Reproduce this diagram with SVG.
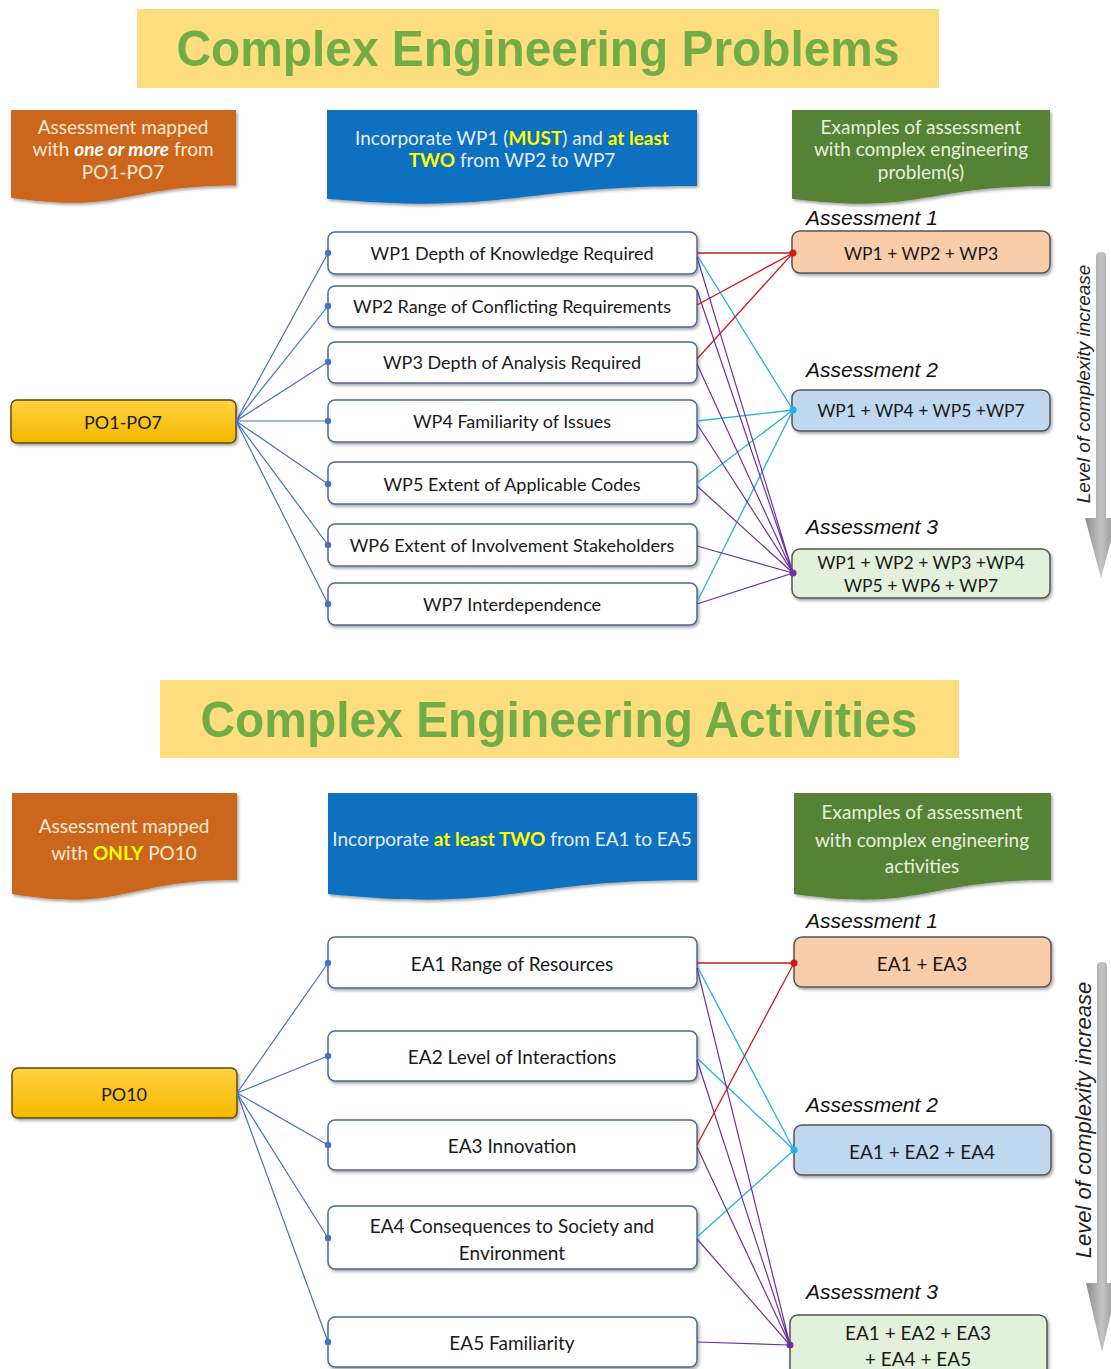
<svg xmlns="http://www.w3.org/2000/svg" width="1111" height="1369" viewBox="0 0 1111 1369">
<defs>
<filter id="sh" x="-10%" y="-20%" width="125%" height="150%">
<feDropShadow dx="1.5" dy="2" stdDeviation="1.5" flood-color="#000" flood-opacity="0.35"/>
</filter>
<linearGradient id="arrowGrad" x1="0" y1="0" x2="1" y2="0">
<stop offset="0" stop-color="#8c8c8c"/>
<stop offset="0.5" stop-color="#c4c4c4"/>
<stop offset="1" stop-color="#8c8c8c"/>
</linearGradient>
<linearGradient id="poGrad" x1="0" y1="0" x2="0" y2="1">
<stop offset="0" stop-color="#FFD23F"/>
<stop offset="1" stop-color="#F5B800"/>
</linearGradient>
<style>
.title{font-family:"Liberation Sans",Arial,sans-serif;font-weight:bold;font-size:50px;fill:#70AD47;text-anchor:middle}
.tband{fill:#FEDD7E}
.ban{font-family:Lato,"Open Sans",sans-serif;font-size:19px;text-anchor:middle;dominant-baseline:central}
.orange{fill:#CC661E}
.blue{fill:#0B6FC0}
.green{fill:#548235}
.hl{fill:#FFFF00;font-weight:bold}
.wp{fill:#ffffff;stroke:#4E6A92;stroke-width:1.5}
.wpt{font-family:Lato,"Open Sans",sans-serif;font-size:18px;fill:#1a1a1a;text-anchor:middle;dominant-baseline:central}
.eat{font-family:Lato,"Open Sans",sans-serif;font-size:19px;fill:#1a1a1a;text-anchor:middle;dominant-baseline:central}
.po{fill:url(#poGrad);stroke:#5E4A10;stroke-width:1.5}
.pot{font-family:Lato,"Open Sans",sans-serif;font-size:18px;fill:#1a1a1a;text-anchor:middle;dominant-baseline:central}
.asb{stroke:#555;stroke-width:1.5}
.a1{fill:#F9CCAA}
.a2{fill:#BFD8F0}
.a3{fill:#E4F1DA}
.ast{font-family:Lato,"Open Sans",sans-serif;font-size:17.5px;fill:#1a1a1a;text-anchor:middle;dominant-baseline:central}
.ast2{font-family:Lato,"Open Sans",sans-serif;font-size:19px;fill:#1a1a1a;text-anchor:middle;dominant-baseline:central}
.alab{font-family:"Liberation Sans",Arial,sans-serif;font-style:italic;font-size:21px;fill:#111}
.lvl{font-family:"Liberation Sans",Arial,sans-serif;font-style:italic;fill:#222;text-anchor:middle;dominant-baseline:central}
.cb{stroke:#4472C4;stroke-width:1.2;fill:none}
.cr{stroke:#D01818;stroke-width:1.3;fill:none}
.cc{stroke:#1DB2E8;stroke-width:1.3;fill:none}
.cp{stroke:#7030A0;stroke-width:1.2;fill:none}
.db{fill:#4472C4}
.dr{fill:#D01818}
.dc{fill:#1DB2E8}
.dp{fill:#7030A0}
</style>
</defs>
<rect width="1111" height="1369" fill="#ffffff"/>

<!-- ===== Top section ===== -->
<g id="title-problems">
<rect class="tband" x="137" y="9" width="802" height="79"/>
<text class="title" x="538" y="66" textLength="723" lengthAdjust="spacingAndGlyphs">Complex Engineering Problems</text>
</g>

<g id="banner-po-top">
<path class="orange" filter="url(#sh)" d="M11,110 H236 V185.4 C123.5,185.4 123.5,214 11,197.8 Z"/>
<text class="ban" x="123" y="126" fill="#FDE9D2">Assessment mapped</text>
<text class="ban" x="123" y="148" fill="#FDE9D2">with <tspan font-weight="bold" font-style="italic" fill="#ffffff">one or more</tspan> from</text>
<text class="ban" x="123" y="171" fill="#FDE9D2">PO1-PO7</text>
</g>

<g id="banner-wp">
<path class="blue" filter="url(#sh)" d="M327,110 H697 V186 C512,186 512,215 327,198.7 Z"/>
<text class="ban" x="512" y="137" fill="#E4EEF9">Incorporate WP1 (<tspan class="hl">MUST</tspan>) and <tspan class="hl">at least</tspan></text>
<text class="ban" x="512" y="159" fill="#E4EEF9"><tspan class="hl">TWO</tspan> from WP2 to WP7</text>
</g>

<g id="banner-ex-top">
<path class="green" filter="url(#sh)" d="M792,110 H1050 V186 C921,186 921,215 792,198.7 Z"/>
<text class="ban" x="921" y="126" fill="#E6F1DE">Examples of assessment</text>
<text class="ban" x="921" y="148" fill="#E6F1DE">with complex engineering</text>
<text class="ban" x="921" y="171" fill="#E6F1DE">problem(s)</text>
</g>

<g id="po1-po7">
<rect class="po" filter="url(#sh)" x="11" y="400" width="225" height="43" rx="6"/>
<text class="pot" x="123" y="422">PO1-PO7</text>
</g>

<g id="wp1"><rect class="wp" filter="url(#sh)" x="328" y="232" width="369" height="42" rx="7"/><text class="wpt" x="512" y="253">WP1 Depth of Knowledge Required</text></g>
<g id="wp2"><rect class="wp" filter="url(#sh)" x="328" y="286" width="369" height="41" rx="7"/><text class="wpt" x="512" y="306">WP2 Range of Conflicting Requirements</text></g>
<g id="wp3"><rect class="wp" filter="url(#sh)" x="328" y="342" width="369" height="41" rx="7"/><text class="wpt" x="512" y="362">WP3 Depth of Analysis Required</text></g>
<g id="wp4"><rect class="wp" filter="url(#sh)" x="328" y="400" width="369" height="42" rx="7"/><text class="wpt" x="512" y="421">WP4 Familiarity of Issues</text></g>
<g id="wp5"><rect class="wp" filter="url(#sh)" x="328" y="462" width="369" height="42" rx="7"/><text class="wpt" x="512" y="484">WP5 Extent of Applicable Codes</text></g>
<g id="wp6"><rect class="wp" filter="url(#sh)" x="328" y="524" width="369" height="42" rx="7"/><text class="wpt" x="512" y="545">WP6 Extent of Involvement Stakeholders</text></g>
<g id="wp7"><rect class="wp" filter="url(#sh)" x="328" y="583" width="369" height="42" rx="7"/><text class="wpt" x="512" y="604">WP7 Interdependence</text></g>

<g id="assess1-top">
<text class="alab" x="806" y="225">Assessment 1</text>
<rect class="asb a1" filter="url(#sh)" x="792" y="231" width="258" height="42" rx="8"/>
<text class="ast" x="921" y="253">WP1 + WP2 + WP3</text>
</g>
<g id="assess2-top">
<text class="alab" x="806" y="377">Assessment 2</text>
<rect class="asb a2" filter="url(#sh)" x="792" y="390" width="258" height="41" rx="8"/>
<text class="ast" x="921" y="410">WP1 + WP4 + WP5 +WP7</text>
</g>
<g id="assess3-top">
<text class="alab" x="806" y="534">Assessment 3</text>
<rect class="asb a3" filter="url(#sh)" x="792" y="549" width="258" height="49" rx="8"/>
<text class="ast" x="921" y="562">WP1 + WP2 + WP3 +WP4</text>
<text class="ast" x="921" y="585">WP5 + WP6 + WP7</text>
</g>

<g id="connectors-top">
<path class="cb" d="M236,421 L328,253 M236,421 L328,306 M236,421 L328,362 M236,421 L328,421 M236,421 L328,484 M236,421 L328,545 M236,421 L328,604"/>
<path class="cc" d="M697,255 L793,410 M697,421 L793,410 M697,483 L793,410 M697,602 L793,410"/>
<path class="cp" d="M697,257 L793,573 M697,290 L793,573 M697,364 L793,573 M697,424 L793,573 M697,486 L793,573 M697,546 L793,573 M697,604 L793,573"/>
<path class="cr" d="M697,253 L793,253 M697,305 L793,253 M697,359 L793,253"/>
<circle class="db" cx="328" cy="253" r="3.2"/>
<circle class="db" cx="328" cy="306" r="3.2"/>
<circle class="db" cx="328" cy="362" r="3.2"/>
<circle class="db" cx="328" cy="421" r="3.2"/>
<circle class="db" cx="328" cy="484" r="3.2"/>
<circle class="db" cx="328" cy="545" r="3.2"/>
<circle class="db" cx="328" cy="604" r="3.2"/>
<circle class="dr" cx="793" cy="253" r="3.5"/>
<circle class="dc" cx="793" cy="410" r="3.5"/>
<circle class="dp" cx="793" cy="573" r="3.5"/>
</g>

<g id="arrow-top">
<path fill="url(#arrowGrad)" d="M1096,256 Q1096,252 1101,252 Q1106,252 1106,256 V518 H1117 L1101,578 L1085,518 H1096 Z"/>
<text class="lvl" font-size="19" transform="translate(1083,384) rotate(-90)">Level of complexity increase</text>
</g>

<!-- ===== Bottom section ===== -->
<g id="title-activities">
<rect class="tband" x="160" y="680" width="799" height="78"/>
<text class="title" x="559" y="737" textLength="717" lengthAdjust="spacingAndGlyphs">Complex Engineering Activities</text>
</g>

<g id="banner-po-bottom">
<path class="orange" filter="url(#sh)" d="M12,793 H237 V880 C124.5,880 124.5,912.5 12,894 Z"/>
<text class="ban" x="124" y="825" font-size="20" fill="#FDE9D2">Assessment mapped</text>
<text class="ban" x="124" y="852" font-size="20" fill="#FDE9D2">with <tspan class="hl">ONLY</tspan> PO10</text>
</g>

<g id="banner-ea">
<path class="blue" filter="url(#sh)" d="M328,793 H697 V880 C512.5,880 512.5,912.5 328,894 Z"/>
<text class="ban" x="512" y="838" font-size="19.5" fill="#E4EEF9">Incorporate <tspan class="hl">at least TWO</tspan> from EA1 to EA5</text>
</g>

<g id="banner-ex-bottom">
<path class="green" filter="url(#sh)" d="M794,793 H1051 V880 C922.5,880 922.5,912.5 794,894 Z"/>
<text class="ban" x="922" y="811" font-size="20" fill="#E6F1DE">Examples of assessment</text>
<text class="ban" x="922" y="839" font-size="20" fill="#E6F1DE">with complex engineering</text>
<text class="ban" x="922" y="865" font-size="20" fill="#E6F1DE">activities</text>
</g>

<g id="po10">
<rect class="po" filter="url(#sh)" x="12" y="1068" width="225" height="50" rx="6"/>
<text class="pot" x="124" y="1094" font-size="20">PO10</text>
</g>

<g id="ea1"><rect class="wp" filter="url(#sh)" x="328" y="937" width="369" height="51" rx="7"/><text class="eat" x="512" y="963">EA1 Range of Resources</text></g>
<g id="ea2"><rect class="wp" filter="url(#sh)" x="328" y="1031" width="369" height="50" rx="7"/><text class="eat" x="512" y="1056">EA2 Level of Interactions</text></g>
<g id="ea3"><rect class="wp" filter="url(#sh)" x="328" y="1120" width="369" height="50" rx="7"/><text class="eat" x="512" y="1145">EA3 Innovation</text></g>
<g id="ea4"><rect class="wp" filter="url(#sh)" x="328" y="1206" width="369" height="63" rx="7"/><text class="eat" x="512" y="1225">EA4 Consequences to Society and</text><text class="eat" x="512" y="1252">Environment</text></g>
<g id="ea5"><rect class="wp" filter="url(#sh)" x="328" y="1317" width="369" height="50" rx="7"/><text class="eat" x="512" y="1342">EA5 Familiarity</text></g>

<g id="assess1-bottom">
<text class="alab" x="806" y="928">Assessment 1</text>
<rect class="asb a1" filter="url(#sh)" x="794" y="937" width="257" height="50" rx="8"/>
<text class="ast2" x="922" y="963">EA1 + EA3</text>
</g>
<g id="assess2-bottom">
<text class="alab" x="806" y="1112">Assessment 2</text>
<rect class="asb a2" filter="url(#sh)" x="794" y="1125" width="257" height="50" rx="8"/>
<text class="ast2" x="922" y="1151">EA1 + EA2 + EA4</text>
</g>
<g id="assess3-bottom">
<text class="alab" x="806" y="1299">Assessment 3</text>
<rect class="asb a3" filter="url(#sh)" x="790" y="1315" width="257" height="70" rx="8"/>
<text class="ast2" x="918" y="1332">EA1 + EA2 + EA3</text>
<text class="ast2" x="918" y="1358">+ EA4 + EA5</text>
</g>

<g id="connectors-bottom">
<path class="cb" d="M237,1093 L328,963 M237,1093 L328,1056 M237,1093 L328,1145 M237,1093 L328,1238 M237,1093 L328,1342"/>
<path class="cc" d="M697,966 L794,1150 M697,1058 L794,1150 M697,1237 L794,1150"/>
<path class="cp" d="M697,968 L790,1345 M697,1060 L790,1345 M697,1147 L790,1345 M697,1239 L790,1345 M697,1342 L790,1345"/>
<path class="cr" stroke-width="1.8" d="M697,963 L794,963 M697,1145 L794,963"/>
<circle class="db" cx="328" cy="963" r="3.2"/>
<circle class="db" cx="328" cy="1056" r="3.2"/>
<circle class="db" cx="328" cy="1145" r="3.2"/>
<circle class="db" cx="328" cy="1238" r="3.2"/>
<circle class="db" cx="328" cy="1342" r="3.2"/>
<circle class="dr" cx="794" cy="963" r="3.5"/>
<circle class="dc" cx="794" cy="1150" r="3.5"/>
<circle class="dp" cx="790" cy="1345" r="3.5"/>
</g>

<g id="arrow-bottom">
<path fill="url(#arrowGrad)" d="M1097,966 Q1097,962 1102,962 Q1107,962 1107,966 V1283 H1118 L1102,1352 L1086,1283 H1097 Z"/>
<text class="lvl" font-size="22" transform="translate(1083,1120) rotate(-90)">Level of complexity increase</text>
</g>
</svg>
